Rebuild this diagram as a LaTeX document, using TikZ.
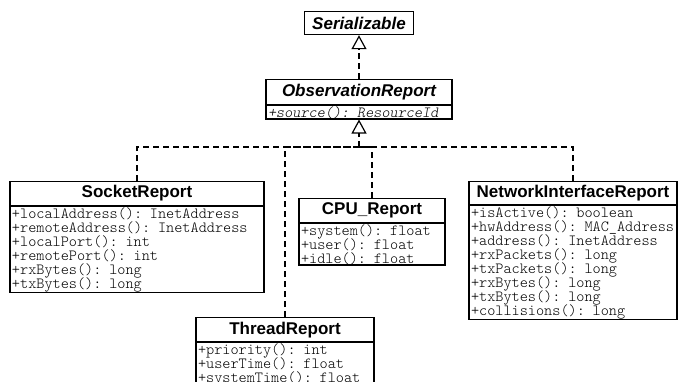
\documentclass[tikz,border=0pt]{standalone}
\usepackage{fontspec}
\setmainfont{Liberation Sans}
\setmonofont{Latin Modern Mono Light}
\usetikzlibrary{arrows.meta}
\newcommand\opsfont{\lineskiplimit=-20pt\relax\fontsize{15.5}{14}\selectfont\ttfamily}
\begin{document}
\begin{tikzpicture}[x=1pt, y=-1pt, line join=miter,
	cls/.style={draw, line width=1.2pt, inner sep=0pt, minimum height=24pt, anchor=north, font=\fontsize{17}{20}\selectfont\bfseries},
	ops/.style={draw, line width=1.2pt, anchor=north, align=left, inner xsep=2pt, inner ysep=0.5pt, font=\opsfont},
	realize/.style={line width=1.2pt, dash pattern=on 6pt off 4pt},
	gen/.style={-{Triangle[open, length=14pt, width=15pt, line width=1.2pt]}}]
	\useasboundingbox (0,0) rectangle (678,381);
	% interfaces
	\node[cls, minimum width=109pt, minimum height=23pt, font=\fontsize{17}{20}\selectfont\bfseries\itshape] (ser) at (359,11) {Serializable};
	\node[cls, minimum width=186pt, minimum height=25pt, font=\fontsize{17}{20}\selectfont\bfseries\itshape] (obs) at (359,79) {ObservationReport};
	\node[ops, text width=182pt, font=\opsfont\itshape] (obsops) at (obs.south) {+source(): ResourceId};
	% reports
	\node[cls, minimum width=254pt] (sock) at (137,181) {SocketReport};
	\node[ops, text width=250pt] (sockops) at (sock.south) {+localAddress(): InetAddress\\+remoteAddress(): InetAddress\\+localPort(): int\\+remotePort(): int\\+rxBytes(): long\\+txBytes(): long};
	\node[cls, minimum width=146pt] (cpu) at (372,198) {CPU\_Report};
	\node[ops, text width=142pt] (cpuops) at (cpu.south) {+system(): float\\+user(): float\\+idle(): float};
	\node[cls, minimum width=208pt, minimum height=23pt] (nir) at (573,181) {NetworkInterfaceReport};
	\node[ops, text width=204pt] (nirops) at (nir.south) {+isActive(): boolean\\+hwAddress(): MAC\_Address\\+address(): InetAddress\\+rxPackets(): long\\+txPackets(): long\\+rxBytes(): long\\+txBytes(): long\\+collisions(): long};
	\node[cls, minimum width=178pt] (thr) at (285,317) {ThreadReport};
	\node[ops, text width=174pt] (throps) at (thr.south) {+priority(): int\\+userTime(): float\\+systemTime(): float};
	% realization
	\coordinate (hub) at (359,147);
	\draw[realize, gen] (obs.north) -- (ser.south);
	\foreach \c in {sock,cpu,nir,thr} \draw[realize] (\c.north) |- (hub);
	\draw[realize, gen] (hub) -- (obsops.south);
\end{tikzpicture}
\end{document}
